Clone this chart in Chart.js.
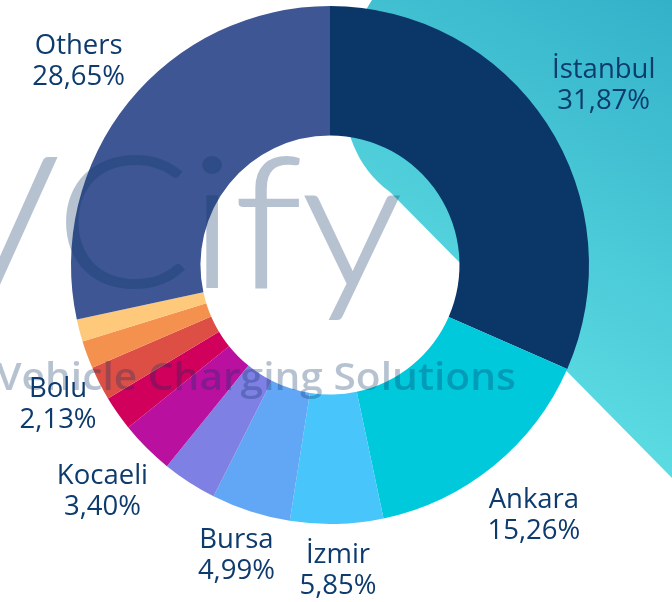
<!DOCTYPE html>
<html>
<head>
<meta charset="utf-8">
<script src="https://cdn.jsdelivr.net/npm/chart.js@4.4.0/dist/chart.umd.min.js"></script>
<style>
  html, body { margin: 0; padding: 0; background: #ffffff; }
  canvas { display: block; }
</style>
</head>
<body>
<canvas id="cityShareChart" width="672" height="602"></canvas>
<script>
// city names (empty = slice drawn without a label)
const cities = ['İstanbul', 'Ankara', 'İzmir', 'Bursa', '', 'Kocaeli', '', 'Bolu', '', '', 'Others'];
// share of charging sessions, %
const shares = [31.87, 15.26, 5.85, 4.99, 3.45, 3.40, 2.20, 2.13, 1.75, 1.40, 28.65];
const sliceColors = [
    '#0a3668', '#00c9db', '#48c5fa', '#62a6f6', '#7f80e4', '#b910a0',
    '#d0005c', '#dd4e45', '#f5914f', '#fec97a', '#3e5794'
];

const labelColor = '#0d3b6e';
const labelFont = '27.5px "Open Sans"';
const lineGap = 31;

// teal shape behind the ring
const backdrop = {
    id: 'backdrop',
    beforeDraw(chart) {
        const ctx = chart.ctx;
        ctx.save();
        ctx.fillStyle = '#ffffff';
        ctx.fillRect(0, 0, chart.width, chart.height);
        const grad = ctx.createLinearGradient(672, 0, 430, 420);
        grad.addColorStop(0, '#33b1c9');
        grad.addColorStop(1, '#62e2e6');
        ctx.fillStyle = grad;
        ctx.beginPath();
        ctx.moveTo(372, 0);
        ctx.bezierCurveTo(345, 40, 320, 140, 390, 192);
        ctx.lineTo(672, 478);
        ctx.lineTo(672, 0);
        ctx.closePath();
        ctx.fill();
        ctx.restore();
    }
};

// watermark (drawn opaque offscreen, then laid on with alpha) + outside labels
const overlay = {
    id: 'overlay',
    afterDatasetsDraw(chart) {
        const ctx = chart.ctx;
        const off = document.createElement('canvas');
        off.width = chart.width;
        off.height = chart.height;
        const o = off.getContext('2d');
        o.fillStyle = o.strokeStyle = 'rgb(10, 50, 100)';
        o.textAlign = 'center';
        o.textBaseline = 'alphabetic';
        o.save();
        o.translate(165, 287);
        o.scale(1.1, 1);
        o.font = '300 181px Lato';
        o.lineWidth = 2;
        o.fillText('VCify', 0, 0);
        o.strokeText('VCify', 0, 0);
        o.restore();
        o.save();
        o.translate(256, 390);
        o.scale(1.1, 1);
        o.font = '600 37px "Open Sans"';
        o.fillText('Vehicle Charging Solutions', 0, 0);
        o.restore();

        ctx.save();
        ctx.globalAlpha = 0.29;
        ctx.drawImage(off, 0, 0);
        ctx.globalAlpha = 1;

        ctx.fillStyle = labelColor;
        ctx.font = labelFont;
        ctx.textAlign = 'center';
        ctx.textBaseline = 'middle';
        const arcs = chart.getDatasetMeta(0).data;
        arcs.forEach((arc, i) => {
            if (!cities[i]) return;
            const pct = shares[i].toFixed(2).replace('.', ',') + '%';
            const w = Math.max(ctx.measureText(cities[i]).width, ctx.measureText(pct).width);
            const mid = (arc.startAngle + arc.endAngle) / 2;
            const r = arc.outerRadius + Math.min(1.1 * w - 38, 68);
            const x = arc.x + Math.cos(mid) * r;
            const y = arc.y + Math.sin(mid) * r;
            ctx.fillText(cities[i], x, y - lineGap / 2);
            ctx.fillText(pct, x, y + lineGap / 2);
        });
        ctx.restore();
    }
};

const ctx = document.getElementById('cityShareChart').getContext('2d');
new Chart(ctx, {
    type: 'doughnut',
    data: {
        labels: cities,
        datasets: [{
            data: shares,
            backgroundColor: sliceColors,
            borderWidth: 0
        }]
    },
    options: {
        responsive: false,
        animation: false,
        cutout: '50%',
        layout: {
            padding: { left: 71, right: 83, top: 6, bottom: 78 }
        },
        plugins: {
            legend: { display: false },
            tooltip: { enabled: false }
        }
    },
    plugins: [backdrop, overlay]
});
</script>
</body>
</html>
